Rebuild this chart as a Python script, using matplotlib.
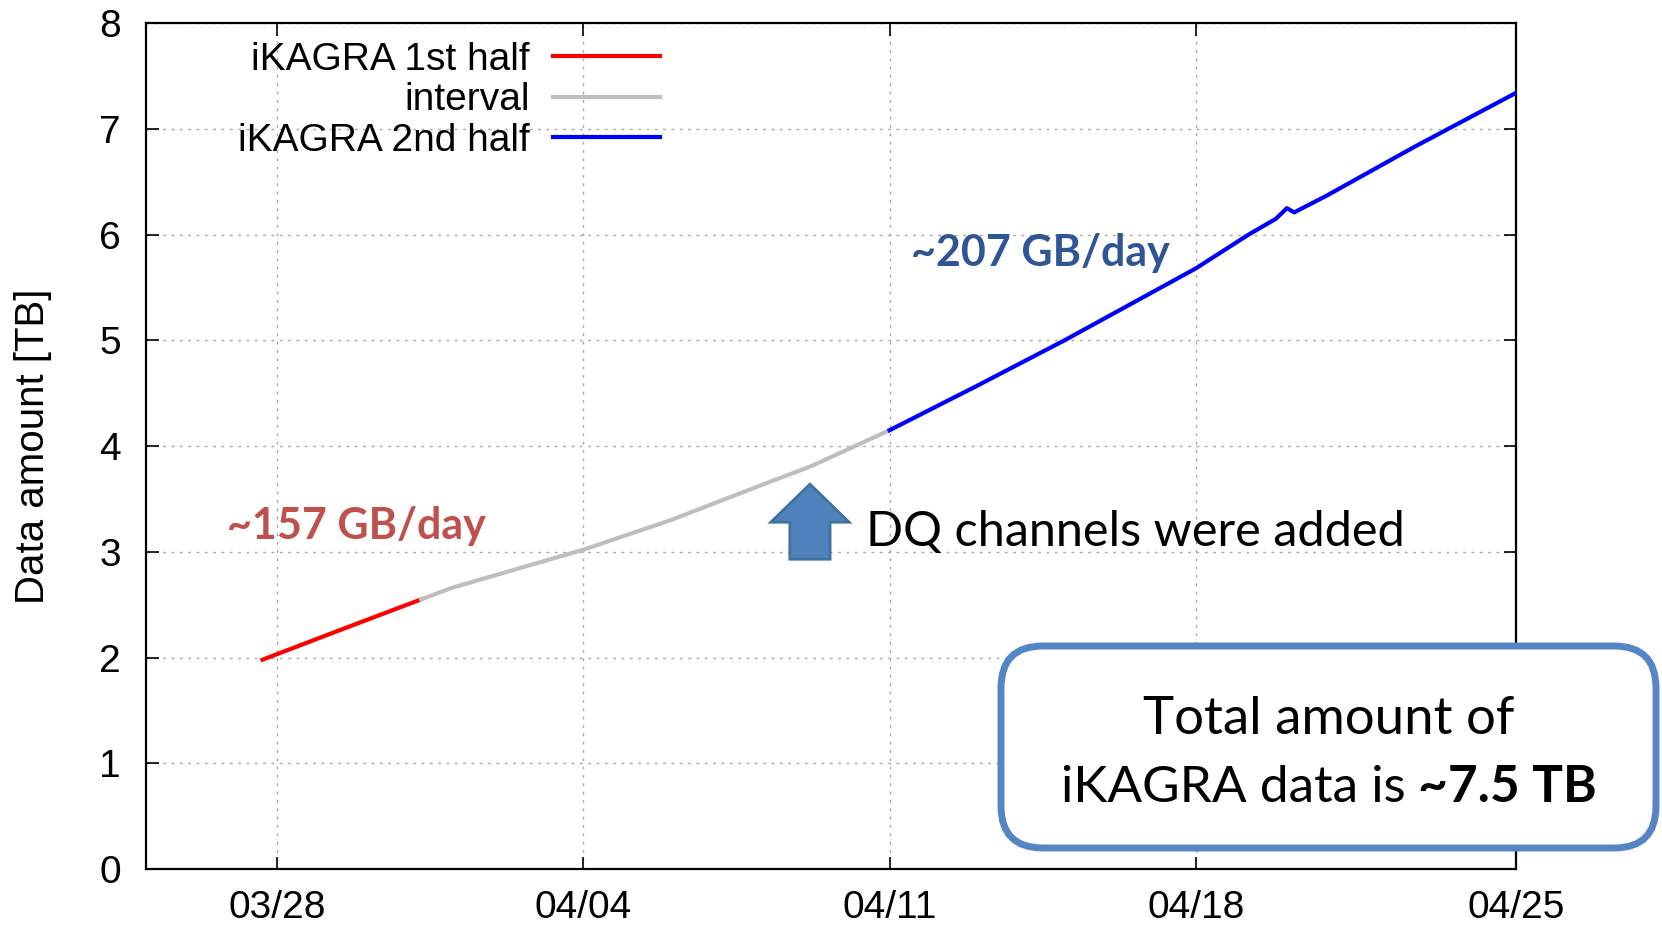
import matplotlib
matplotlib.use('Agg')
import matplotlib.pyplot as plt
import matplotlib.dates as mdates
from matplotlib.patches import FancyArrow, FancyBboxPatch
import pandas as pd

# data (2016 iKAGRA run)
first_dates = ['2016-03-27 16:00', '2016-03-29 12:00', '2016-03-31 07:00']
first_tb = [1.98, 2.27, 2.55]

interval_dates = ['2016-03-31 07:00', '2016-04-01 00:00', '2016-04-02 12:00', '2016-04-04 00:00',
                  '2016-04-06 00:00', '2016-04-07 00:00', '2016-04-08 00:00', '2016-04-09 05:00',
                  '2016-04-10 00:00', '2016-04-11 00:00']
interval_tb = [2.55, 2.66, 2.84, 3.02, 3.30, 3.46, 3.62, 3.81, 3.96, 4.15]

second_dates = ['2016-04-11 00:00', '2016-04-13 00:00', '2016-04-15 00:00', '2016-04-18 00:00',
                '2016-04-19 05:00', '2016-04-19 20:00', '2016-04-20 02:00', '2016-04-20 06:00',
                '2016-04-21 00:00', '2016-04-23 00:00', '2016-04-25 07:40']
second_tb = [4.15, 4.57, 5.00, 5.68, 6.00, 6.15, 6.25, 6.21, 6.37, 6.83, 7.34]

tick_dates = ['2016-03-28 00:00', '2016-04-04 00:00', '2016-04-11 00:00', '2016-04-18 00:00',
              '2016-04-25 07:40']
x_range = ['2016-03-25 00:00', '2016-04-25 07:40']

AXFONT = 'Liberation Sans'
NOTEFONT = 'Lato'

fig = plt.figure(figsize=(16.62, 9.25), dpi=100)
ax = fig.add_axes([0.0878, 0.0605, 0.8243, 0.9145])

ax.plot(pd.to_datetime(first_dates), first_tb, color='#ff0000', lw=3, label='iKAGRA 1st half', zorder=3)
ax.plot(pd.to_datetime(interval_dates), interval_tb, color='#bebebe', lw=3, label='interval', zorder=3)
ax.plot(pd.to_datetime(second_dates), second_tb, color='#0000ff', lw=3, label='iKAGRA 2nd half', zorder=3)

ax.set_xlim(pd.to_datetime(x_range))
ax.set_ylim(0, 8)
ax.set_xticks(pd.to_datetime(tick_dates))
ax.xaxis.set_major_formatter(mdates.DateFormatter('%m/%d'))
ax.set_yticks(range(0, 9))

ax.grid(True, color='#a8a8a8', lw=1, linestyle=(0, (2, 4)))
ax.tick_params(direction='in', length=9, width=1.2, top=True, right=True, labelsize=28)
ax.tick_params(axis='x', pad=15)
ax.tick_params(axis='y', pad=18)
for lab in ax.get_xticklabels() + ax.get_yticklabels():
    lab.set_fontfamily(AXFONT)
for sp in ax.spines.values():
    sp.set_linewidth(1.6)

ax.set_ylabel('Data amount [TB]', fontsize=29, fontfamily=AXFONT, labelpad=34)

leg = ax.legend(loc='upper right', bbox_to_anchor=(0.375, 0.978), markerfirst=False, frameon=False,
                prop={'family': AXFONT, 'size': 28}, handlelength=2.75, handletextpad=0.6,
                labelspacing=0.12, borderpad=0, borderaxespad=0)
for line in leg.get_lines():
    line.set_linewidth(3)

# annotations
ax.text(pd.Timestamp('2016-03-26 20:40'), 3.24, '~157 GB/day', color='#c0504d', fontsize=31,
        fontweight='bold', fontfamily=NOTEFONT, ha='left', va='center')
ax.text(pd.Timestamp('2016-04-11 12:00'), 5.83, '~207 GB/day', color='#2f5597', fontsize=31,
        fontweight='bold', fontfamily=NOTEFONT, ha='left', va='center')
ax.text(pd.Timestamp('2016-04-10 11:00'), 3.19, 'DQ channels were added', color='black', fontsize=35,
        fontfamily=NOTEFONT, ha='left', va='center')

arrow_x = mdates.date2num(pd.Timestamp('2016-04-09 04:20'))
ax.add_patch(FancyArrow(arrow_x, 2.93, 0, 0.71, width=0.92, head_width=1.79, head_length=0.36,
                        length_includes_head=True, facecolor='#4f81bd', edgecolor='#41719c',
                        lw=2, zorder=4))

# summary box (figure inches)
box = FancyBboxPatch((10.01, 0.77), 6.55, 2.02, boxstyle='round,pad=0,rounding_size=0.42',
                     transform=fig.dpi_scale_trans, facecolor='white', edgecolor='#5585c5',
                     lw=5, zorder=10)
fig.patches.append(box)
fig.text(13.29, 2.05, 'Total amount of', transform=fig.dpi_scale_trans, fontsize=38,
         fontfamily=NOTEFONT, ha='center', va='center', zorder=11)
t1 = fig.text(0, 1.37, 'iKAGRA data is ', transform=fig.dpi_scale_trans, fontsize=37,
              fontfamily=NOTEFONT, ha='left', va='center', zorder=11)
t2 = fig.text(0, 1.37, '~7.5 TB', transform=fig.dpi_scale_trans, fontsize=37, fontweight='bold',
              fontfamily=NOTEFONT, ha='left', va='center', zorder=11)
fig.canvas.draw()
r = fig.canvas.get_renderer()
w1 = t1.get_window_extent(r).width / fig.dpi
w2 = t2.get_window_extent(r).width / fig.dpi
start = 13.29 - (w1 + w2) / 2
t1.set_x(start)
t2.set_x(start + w1)

fig.savefig('out.png', dpi=100)
